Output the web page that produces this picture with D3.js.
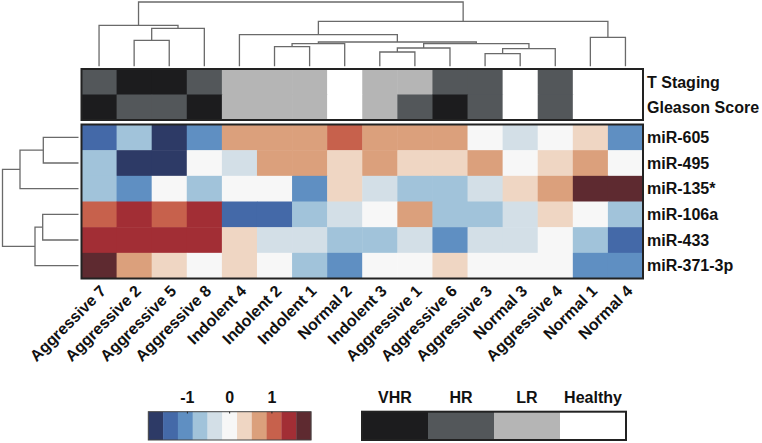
<!DOCTYPE html>
<html>
<head>
<meta charset="utf-8">
<script src="https://cdn.jsdelivr.net/npm/d3@7"></script>
<style>
  body { margin: 0; background: #fff; }
  text { font-family: "Liberation Sans", Arial, sans-serif; font-weight: bold; fill: #111; }
</style>
</head>
<body>
<svg id="chart" width="762" height="443"></svg>
<script>
var samples = ['Aggressive 7', 'Aggressive 2', 'Aggressive 5', 'Aggressive 8', 'Indolent 4', 'Indolent 2',
  'Indolent 1', 'Normal 2', 'Indolent 3', 'Aggressive 1', 'Aggressive 6', 'Aggressive 3', 'Normal 3',
  'Aggressive 4', 'Normal 1', 'Normal 4'];
var genes = ['miR-605', 'miR-495', 'miR-135*', 'miR-106a', 'miR-433', 'miR-371-3p'];

// z-scores (one row per gene)
var expr = [
  [-1.4, -0.7, -1.75, -1.05, 0.7, 0.7, 0.7, 1.05, 0.7, 0.7, 0.7, 0, -0.35, 0, 0.35, -1.05],
  [-0.7, -1.75, -1.75, 0, -0.35, 0.7, 0.7, 0.35, 0.7, 0.35, 0.35, 0.7, 0, 0.35, 0.7, 0],
  [-0.7, -1.05, 0, -0.7, 0, 0, -1.05, 0.35, -0.35, -0.7, -0.7, -0.35, 0.35, 0.7, 1.75, 1.75],
  [1.05, 1.4, 1.05, 1.4, -1.4, -1.4, -0.7, -0.35, 0, 0.7, -0.7, -0.7, -0.35, 0.35, 0, -0.7],
  [1.4, 1.4, 1.4, 1.4, 0.35, -0.35, -0.35, -0.7, -0.7, -0.35, -1.05, -0.35, -0.35, 0, -0.7, -1.4],
  [1.75, 0.7, 0.35, 0, 0.35, 0, -0.7, -1.05, 0, 0, 0.35, 0, 0, 0, -1.05, -1.05]
];

var tStaging = ['HR', 'VHR', 'VHR', 'HR', 'LR', 'LR', 'LR', 'Healthy', 'LR', 'LR', 'HR', 'HR', 'Healthy', 'HR', 'Healthy', 'Healthy'];
var gleason = ['VHR', 'HR', 'HR', 'VHR', 'LR', 'LR', 'LR', 'Healthy', 'LR', 'HR', 'VHR', 'HR', 'Healthy', 'HR', 'Healthy', 'Healthy'];
var annotRows = ['T Staging', 'Gleason Score'];

var riskLevels = ['VHR', 'HR', 'LR', 'Healthy'];
var riskColors = ['#1c1c1e', '#53575a', '#b5b5b5', '#ffffff'];
var heatColors = ['#2d3a66', '#4469a8', '#5f8fc2', '#a1c3da', '#d3dfe7', '#f7f7f7',
  '#efd6c3', '#dba07c', '#c7614c', '#a22e35', '#5e2a30'];
var colorTicks = [-1, 0, 1];

// clustering trees: leaves are indexes, h = merge distance
var colTree = { h: 64.3, c: [
  { h: 41, c: [{ i: 0 }, { h: 38, c: [{ h: 26, c: [{ i: 1 }, { i: 2 }] }, { i: 3 }] }] },
  { h: 45, c: [
    { h: 31.6, c: [{ i: 4 }, { h: 24.3, c: [
      { h: 22.6, c: [{ h: 19.6, c: [{ i: 5 }, { i: 6 }] }, { i: 7 }] },
      { h: 22.6, c: [
        { h: 18.3, c: [{ h: 14.3, c: [{ i: 8 }, { i: 9 }] }, { i: 10 }] },
        { h: 17.6, c: [{ h: 12.6, c: [{ i: 11 }, { i: 12 }] }, { i: 13 }] }
      ] }
    ] }] },
    { h: 29, c: [{ i: 14 }, { i: 15 }] }
  ] }
] };
var rowTree = { h: 76, c: [
  { h: 58.5, c: [{ h: 35.2, c: [{ i: 0 }, { i: 1 }] }, { i: 2 }] },
  { h: 43.5, c: [{ h: 35.8, c: [{ i: 3 }, { i: 4 }] }, { i: 5 }] }
] };

var svg = d3.select('#chart');

var x = d3.scaleBand().domain(d3.range(samples.length)).range([81.5, 643]);
var y = d3.scaleBand().domain(d3.range(genes.length)).range([124.5, 278.5]);
var ya = d3.scaleBand().domain(d3.range(annotRows.length)).range([69, 120]);
var color = d3.scaleQuantize().domain([-1.925, 1.925]).range(heatColors);
var risk = d3.scaleOrdinal().domain(riskLevels).range(riskColors);

// ---- top dendrogram
var colH = d3.scaleLinear().domain([0, 64.3]).range([66.3, 2]);
var cRoot = d3.hierarchy(colTree, function(d) { return d.c; });
cRoot.eachAfter(function(n) {
  n.p = n.children ? (n.children[0].p + n.children[1].p) / 2 : x(n.data.i) + x.bandwidth() / 2;
  n.hh = n.children ? n.data.h : 0;
});
var dendro = svg.append('g').attr('fill', 'none').attr('stroke', '#6a6a6a').attr('stroke-width', 1.3);
cRoot.descendants().filter(function(n) { return n.children; }).forEach(function(n) {
  var a = n.children[0], b = n.children[1];
  dendro.append('path').attr('d', 'M' + a.p + ',' + colH(a.hh) + 'V' + colH(n.hh) + 'H' + b.p + 'V' + colH(b.hh));
});

// ---- side dendrogram
var rowH = d3.scaleLinear().domain([0, 76]).range([78.5, 2.5]);
var rRoot = d3.hierarchy(rowTree, function(d) { return d.c; });
rRoot.eachAfter(function(n) {
  n.p = n.children ? (n.children[0].p + n.children[1].p) / 2 : y(n.data.i) + y.bandwidth() / 2;
  n.hh = n.children ? n.data.h : 0;
});
rRoot.descendants().filter(function(n) { return n.children; }).forEach(function(n) {
  var a = n.children[0], b = n.children[1];
  dendro.append('path').attr('d', 'M' + rowH(a.hh) + ',' + a.p + 'H' + rowH(n.hh) + 'V' + b.p + 'H' + rowH(b.hh));
});

// ---- annotation bars
var annot = [tStaging, gleason];
var ag = svg.append('g');
annot.forEach(function(arr, r) {
  ag.selectAll('rect.a' + r).data(arr).enter().append('rect')
    .attr('x', function(d, i) { return x(i); })
    .attr('y', ya(r))
    .attr('width', x.bandwidth() + 0.5)
    .attr('height', ya.bandwidth() + 0.5)
    .attr('fill', function(d) { return risk(d); });
});
ag.append('rect').attr('x', 81.5).attr('y', 69).attr('width', 643 - 81.5).attr('height', 51)
  .attr('fill', 'none').attr('stroke', '#222').attr('stroke-width', 2);
ag.selectAll('text').data(annotRows).enter().append('text')
  .attr('x', 647).attr('y', function(d, i) { return ya(i) + ya.bandwidth() / 2; })
  .attr('dy', '0.36em').attr('font-size', 16).text(function(d) { return d; });

// ---- heatmap
var hg = svg.append('g');
expr.forEach(function(row, r) {
  hg.selectAll('rect.r' + r).data(row).enter().append('rect')
    .attr('x', function(d, i) { return x(i); })
    .attr('y', y(r))
    .attr('width', x.bandwidth() + 0.5)
    .attr('height', y.bandwidth() + 0.5)
    .attr('fill', function(d) { return color(d); });
});
hg.append('rect').attr('x', 81.5).attr('y', 124.5).attr('width', 643 - 81.5).attr('height', 154)
  .attr('fill', 'none').attr('stroke', '#222').attr('stroke-width', 2);
hg.selectAll('text.gene').data(genes).enter().append('text')
  .attr('x', 647).attr('y', function(d, i) { return y(i) + y.bandwidth() / 2; })
  .attr('dy', '0.36em').attr('font-size', 16).text(function(d) { return d; });
hg.selectAll('text.sample').data(samples).enter().append('text')
  .attr('text-anchor', 'end').attr('font-size', 16)
  .attr('transform', function(d, i) {
    return 'translate(' + (x(i) + x.bandwidth() / 2 + 8) + ',292) rotate(-45)';
  })
  .text(function(d) { return d; });

// ---- colour legend
var lx = d3.scaleLinear().domain([-1.925, 1.925]).range([148.3, 311]);
var step = 3.85 / heatColors.length;
var lg = svg.append('g');
lg.selectAll('rect').data(heatColors).enter().append('rect')
  .attr('x', function(d, i) { return lx(-1.925 + i * step); })
  .attr('y', 411.7).attr('width', lx(step) - lx(0) + 0.3).attr('height', 28.3)
  .attr('fill', function(d) { return d; });
lg.append('rect').attr('x', 148.3).attr('y', 411.7).attr('width', 311 - 148.3).attr('height', 28.3)
  .attr('fill', 'none').attr('stroke', '#444').attr('stroke-width', 1);
lg.selectAll('line').data(colorTicks).enter().append('line')
  .attr('x1', function(d) { return lx(d); }).attr('x2', function(d) { return lx(d); })
  .attr('y1', 411.7).attr('y2', 413.5).attr('stroke', '#222');
lg.selectAll('text').data(colorTicks).enter().append('text')
  .attr('x', function(d) { return lx(d); }).attr('y', 402.5)
  .attr('text-anchor', 'middle').attr('font-size', 16).text(function(d) { return d; });

// ---- risk legend
var rx = d3.scaleBand().domain(riskLevels).range([362, 626]);
var rg = svg.append('g');
rg.selectAll('rect').data(riskLevels).enter().append('rect')
  .attr('x', function(d) { return rx(d); }).attr('y', 411.7)
  .attr('width', rx.bandwidth() + 0.3).attr('height', 28.3)
  .attr('fill', function(d) { return risk(d); });
rg.append('rect').attr('x', 362).attr('y', 411.7).attr('width', 264).attr('height', 28.3)
  .attr('fill', 'none').attr('stroke', '#222').attr('stroke-width', 2);
rg.selectAll('text').data(riskLevels).enter().append('text')
  .attr('x', function(d) { return rx(d) + rx.bandwidth() / 2; }).attr('y', 402.5)
  .attr('text-anchor', 'middle').attr('font-size', 16).text(function(d) { return d; });
</script>
</body>
</html>
